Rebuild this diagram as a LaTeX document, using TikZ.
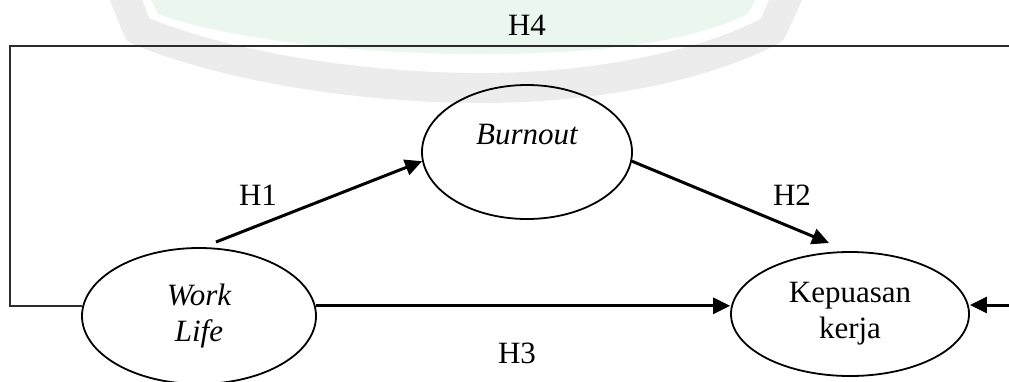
\documentclass[tikz,border=0pt]{standalone}
\usepackage{fontspec}
\setmainfont{Liberation Serif}
\usetikzlibrary{arrows.meta,shapes.geometric}

\definecolor{wmgreen}{RGB}{235,246,239}
\definecolor{wmgray}{RGB}{236,236,236}
\definecolor{loopline}{RGB}{45,45,45}

\tikzset{
  var/.style={draw, ellipse, line width=1.8pt, inner sep=0pt, align=center,
    font=\fontsize{31}{36}\selectfont},
  hyp/.style={font=\fontsize{31}{36}\selectfont, inner sep=0pt},
  arr/.style={line width=3pt, -{Triangle[length=17pt,width=16pt]}},
  feedback/.style={line width=1.6pt, draw=loopline}
}

\begin{document}
\begin{tikzpicture}[x=1pt,y=-1pt]
\useasboundingbox (0,0) rectangle (1009,381);
\clip (0,0) rectangle (1009,381);

% faint emblem in the background
\fill[wmgreen] (150,-2) -- (158,14) .. controls (230,40) and (360,54) .. (480,54)
  .. controls (600,54) and (690,42) .. (748,14) -- (756,-2) -- cycle;
\draw[wmgray, line width=30pt, line join=round]
  (122,-10) -- (138,30) .. controls (240,72) and (380,88) .. (480,88)
  .. controls (590,88) and (700,68) .. (772,30) -- (790,-10);

% variables
\node[var, minimum width=234pt, minimum height=136pt] (worklife) at (199,316)
  {\itshape Work\\ \itshape Life};
\node[var, minimum width=210pt, minimum height=134pt] (burnout) at (527,152)
  {\itshape Burnout\\ ~};
\node[var, minimum width=238pt, minimum height=124pt] (kepuasan) at (850,314)
  {Kepuasan\\ kerja};

% free ends of the paths
\coordinate (h1s) at (216,242);
\coordinate (h2e) at (829,243);
\coordinate (lcorner) at (10,46);
\coordinate (topright) at (1015,46);
\coordinate (rin) at (1015,305);
\path (worklife.5) coordinate (h3s);
\path (worklife.175) coordinate (h4s);

% hypotheses
\draw[arr] (h1s) -- (burnout.185);
\draw[arr] (burnout.-5) -- (h2e);
\draw[arr] (h3s) -- (h3s -| kepuasan.west);
\draw[arr] (rin) -- (rin -| kepuasan.east);
\draw[feedback] (h4s) -- (h4s -| lcorner) -- (lcorner) -- (topright);

% labels
\node[hyp] (lh1) at (258,195) {H1};
\node[hyp] (lh2) at (792,195) {H2};
\node[hyp] (lh3) at (517,353) {H3};
\node[hyp] (lh4) at (527,25) {H4};
\end{tikzpicture}
\end{document}
